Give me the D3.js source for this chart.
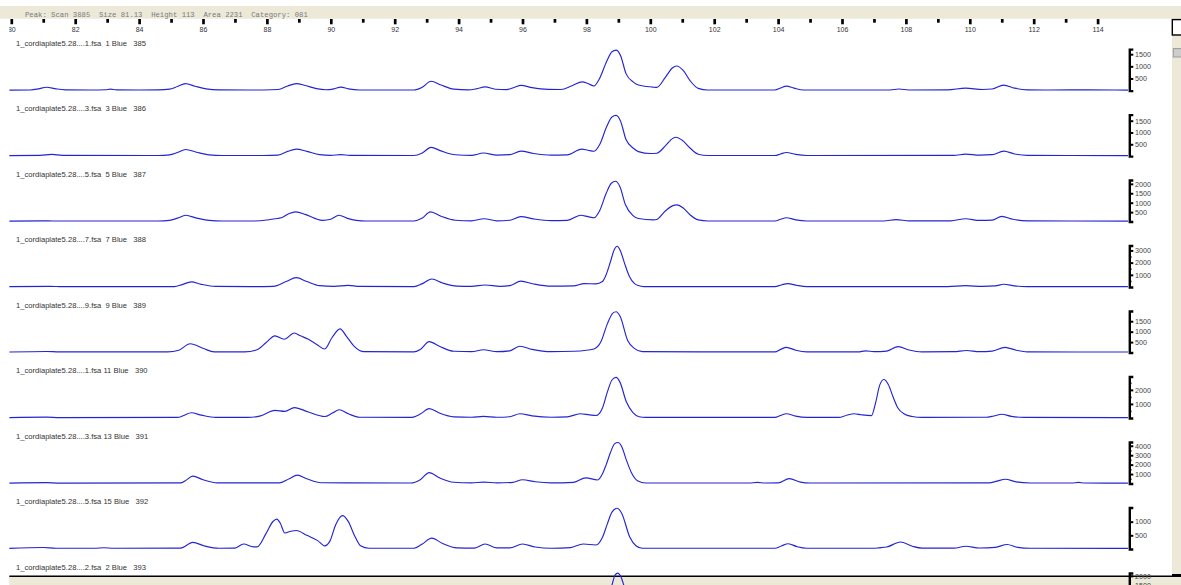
<!DOCTYPE html>
<html><head><meta charset="utf-8">
<script src="https://cdn.jsdelivr.net/npm/d3@7/dist/d3.min.js"></script>
<style>
html,body{margin:0;padding:0;background:#fff;overflow:hidden}
svg{display:block}
</style></head><body>
<svg id="c" width="1181" height="585"></svg>
<script>
// ---------- DATA ----------
const headerText = "Peak: Scan 3885  Size 81.13  Height 113  Area 2231  Category: 081";
const sizeTickLabels = [80,82,84,86,88,90,92,94,96,98,100,102,104,106,108,110,112,114];
const sizeMinorTicks = [81,83,85,87,89,91,93,95,97,99,101,103,105,107,109,111,113];
const sampleLabels = [
  "1_cordiaplate5.28....1.fsa  1 Blue   385",
  "1_cordiaplate5.28....3.fsa  3 Blue   386",
  "1_cordiaplate5.28....5.fsa  5 Blue   387",
  "1_cordiaplate5.28....7.fsa  7 Blue   388",
  "1_cordiaplate5.28....9.fsa  9 Blue   389",
  "1_cordiaplate5.28....1.fsa 11 Blue   390",
  "1_cordiaplate5.28....3.fsa 13 Blue   391",
  "1_cordiaplate5.28....5.fsa 15 Blue   392",
  "1_cordiaplate5.28....2.fsa  2 Blue   393"
];
const rfuMax = [1710, 1760, 2200, 3400, 1990, 2950, 4400, 1520, 2150];
const rfuTickLabels = [
  [500,1000,1500],[500,1000,1500],[500,1000,1500,2000],[1000,2000,3000],
  [500,1000,1500],[1000,2000],[1000,2000,3000,4000],[500,1000],[500,1000,1500,2000]
];
const rfuMinorTicks = [[],[],[],[500,1500,2500],[],[500,1500,2500],[500,1500,2500,3500],[],[]];

// traces: [size (bp), RFU]
const trace385 = [[79.94,20],[80.6,25],[80.85,70],[81.1,140],[81.4,70],[81.7,30],[82.5,25],[82.95,35],[83.1,60],[83.3,30],[84.0,25],[84.6,30],[84.95,60],[85.2,170],[85.45,290],[85.75,180],[86.1,70],[86.5,30],[87.4,25],[87.9,25],[88.35,45],[88.65,190],[88.92,290],[89.2,210],[89.55,80],[89.85,35],[90.1,70],[90.31,145],[90.55,70],[90.9,25],[92.6,25],[92.85,130],[93.14,385],[93.45,230],[93.85,60],[94.3,30],[94.55,70],[94.83,155],[95.15,55],[95.5,40],[95.75,140],[95.95,215],[96.3,120],[96.8,50],[97.2,45],[97.55,200],[97.87,360],[98.05,290],[98.24,190],[98.4,470],[98.63,1190],[98.8,1600],[98.93,1670],[99.07,1440],[99.24,700],[99.47,350],[99.63,230],[100.08,145],[100.2,130],[100.47,545],[100.69,930],[100.83,1015],[101.03,830],[101.25,400],[101.5,90],[101.8,25],[103.9,25],[104.08,110],[104.26,185],[104.5,100],[104.8,25],[107.5,25],[107.78,65],[108.1,25],[109.3,30],[109.87,100],[110.4,45],[110.7,65],[111.06,225],[111.4,100],[111.8,30],[112.5,25],[113.7,30],[114.95,20]];
const trace386 = [[79.94,20],[80.9,30],[81.27,70],[81.6,30],[84.6,25],[84.95,50],[85.2,150],[85.46,280],[85.8,160],[86.2,50],[86.6,25],[87.9,25],[88.35,40],[88.65,200],[88.92,295],[89.25,200],[89.65,60],[90.0,30],[90.31,60],[90.6,30],[92.6,25],[92.85,120],[93.14,370],[93.45,220],[93.9,55],[94.4,30],[94.78,130],[95.2,40],[95.6,60],[95.95,210],[96.35,110],[96.9,40],[97.4,50],[97.85,295],[98.05,245],[98.24,205],[98.42,500],[98.63,1230],[98.8,1660],[98.93,1725],[99.07,1480],[99.24,700],[99.47,330],[99.63,190],[100.0,110],[100.2,120],[100.47,430],[100.69,740],[100.81,800],[101.0,670],[101.25,330],[101.5,80],[101.8,25],[103.9,25],[104.08,90],[104.26,150],[104.55,70],[104.9,25],[109.5,30],[109.87,85],[110.3,40],[110.7,60],[111.06,210],[111.4,90],[111.8,30],[114.95,20]];
const trace387 = [[79.94,25],[81.0,40],[81.3,30],[84.6,30],[84.95,60],[85.2,180],[85.46,335],[85.8,180],[86.2,60],[86.6,30],[87.6,30],[88.0,80],[88.25,150],[88.45,200],[88.7,430],[88.9,515],[89.2,380],[89.5,170],[89.75,60],[90.0,120],[90.26,335],[90.5,180],[90.8,60],[91.1,30],[92.6,30],[92.85,170],[93.12,515],[93.45,280],[93.9,70],[94.4,40],[94.8,150],[95.2,40],[95.6,70],[95.95,260],[96.35,140],[96.9,50],[97.4,60],[97.82,335],[98.05,260],[98.24,200],[98.42,600],[98.62,1500],[98.78,2030],[98.91,2135],[99.05,1850],[99.22,900],[99.45,330],[99.63,160],[100.1,90],[100.2,110],[100.47,560],[100.69,830],[100.83,885],[101.03,720],[101.25,350],[101.5,90],[101.8,30],[103.9,30],[104.08,120],[104.26,200],[104.55,90],[104.9,30],[107.3,30],[107.7,105],[108.1,35],[109.4,40],[109.87,150],[110.3,60],[110.7,80],[111.0,275],[111.35,120],[111.8,35],[114.95,25]];
const trace388 = [[79.94,30],[81.2,60],[81.6,30],[85.1,40],[85.35,200],[85.63,425],[85.95,220],[86.4,50],[87.5,30],[88.2,60],[88.6,450],[88.92,770],[89.25,450],[89.65,110],[90.1,60],[90.55,140],[90.9,50],[92.6,40],[92.85,260],[93.16,655],[93.5,330],[93.95,80],[94.4,60],[94.83,165],[95.3,60],[95.6,120],[95.95,485],[96.35,250],[96.9,70],[97.6,90],[97.93,285],[98.3,260],[98.5,450],[98.6,900],[98.75,2050],[98.87,3050],[98.96,3340],[99.06,3000],[99.19,1980],[99.35,850],[99.5,300],[99.62,120],[99.8,40],[103.9,40],[104.1,170],[104.3,285],[104.6,130],[104.9,40],[109.3,40],[109.87,110],[110.4,50],[110.8,90],[111.06,230],[111.4,100],[111.8,40],[114.95,30]];
const trace389 = [[79.94,25],[81.1,50],[81.5,30],[84.9,30],[85.24,110],[85.6,420],[86.02,190],[86.35,30],[87.3,30],[87.69,135],[87.97,465],[88.25,800],[88.54,635],[88.86,935],[89.05,800],[89.3,635],[89.55,400],[89.81,170],[90.04,720],[90.29,1135],[90.48,800],[90.71,335],[91.04,40],[92.6,30],[92.8,150],[93.08,520],[93.4,300],[93.85,60],[94.4,40],[94.78,135],[95.2,40],[95.6,80],[95.92,300],[96.3,150],[96.9,40],[97.6,60],[98.0,110],[98.24,170],[98.45,500],[98.65,1350],[98.82,1880],[98.93,1955],[99.05,1750],[99.3,550],[99.5,200],[99.75,40],[103.9,30],[104.08,150],[104.26,250],[104.55,110],[104.9,30],[106.5,30],[106.74,80],[107.0,40],[107.4,70],[107.76,285],[108.1,120],[108.5,30],[109.5,40],[109.9,95],[110.3,40],[110.7,70],[111.1,250],[111.45,110],[111.8,30],[114.95,25]];
const trace390 = [[79.94,30],[81.1,60],[81.5,30],[85.2,40],[85.4,180],[85.63,370],[85.95,200],[86.4,40],[87.4,40],[87.8,150],[88.25,540],[88.56,470],[88.86,740],[89.3,425],[89.81,105],[90.05,350],[90.26,590],[90.55,300],[90.9,50],[92.5,40],[92.8,280],[93.08,670],[93.4,350],[93.85,80],[94.4,50],[94.78,120],[95.2,50],[95.6,90],[95.92,300],[96.3,150],[96.9,50],[97.4,80],[97.8,300],[98.1,220],[98.3,180],[98.5,700],[98.65,1800],[98.8,2700],[98.93,2890],[99.05,2550],[99.25,1150],[99.45,400],[99.65,90],[99.85,40],[103.9,40],[104.08,180],[104.26,300],[104.55,130],[104.9,40],[105.9,40],[106.15,200],[106.38,300],[106.6,230],[106.92,170],[107.05,1065],[107.18,2340],[107.31,2740],[107.45,2380],[107.6,1490],[107.75,710],[107.95,285],[108.2,105],[108.5,40],[110.5,50],[110.75,140],[111.0,270],[111.3,120],[111.7,40],[114.95,30]];
const trace391 = [[79.94,40],[81.1,90],[81.5,40],[85.3,60],[85.45,300],[85.68,775],[86.0,400],[86.45,60],[88.4,70],[88.7,500],[88.95,880],[89.25,500],[89.7,80],[90.5,60],[92.5,50],[92.8,400],[93.08,1145],[93.4,600],[93.85,130],[94.4,60],[94.78,150],[95.2,60],[95.7,120],[96.0,400],[96.4,180],[96.9,60],[97.6,120],[97.98,595],[98.35,370],[98.5,1000],[98.62,2000],[98.75,3250],[98.88,4200],[98.99,4345],[99.1,3950],[99.25,2500],[99.41,1145],[99.6,300],[99.86,50],[103.1,50],[103.35,110],[103.6,50],[104.0,60],[104.35,520],[104.7,150],[105.0,50],[110.6,60],[110.85,250],[111.11,445],[111.45,170],[111.9,50],[113.2,50],[113.4,110],[113.6,50],[114.95,40]];
const trace392 = [[79.94,20],[81.0,55],[81.4,25],[82.6,25],[82.9,45],[83.2,25],[85.3,30],[85.68,240],[86.05,110],[86.5,25],[87.0,30],[87.27,180],[87.58,75],[87.69,75],[87.97,560],[88.19,1005],[88.31,1095],[88.42,940],[88.56,585],[88.75,650],[88.92,675],[89.25,500],[89.59,305],[89.81,115],[89.98,305],[90.15,880],[90.37,1220],[90.54,1020],[90.76,445],[90.93,115],[91.2,25],[92.6,25],[92.85,170],[93.16,395],[93.5,200],[93.95,40],[94.5,30],[94.83,180],[95.2,40],[95.6,40],[96.0,180],[96.4,70],[96.9,25],[97.5,50],[97.9,180],[98.3,145],[98.5,420],[98.65,900],[98.8,1350],[98.96,1490],[99.1,1320],[99.36,430],[99.55,120],[99.75,25],[103.9,25],[104.1,110],[104.32,190],[104.6,80],[104.9,25],[107.0,25],[107.15,40],[107.4,70],[107.83,255],[108.2,100],[108.5,30],[109.5,30],[109.87,100],[110.3,35],[110.8,60],[111.17,165],[111.5,60],[111.9,25],[114.95,20]];
const trace393 = [[79.94,25],[85.6,250],[86.2,30],[93.1,450],[93.6,30],[97.9,300],[98.3,250],[98.5,500],[98.65,900],[98.79,1475],[98.9,2050],[98.98,2140],[99.08,1950],[99.18,1475],[99.35,600],[99.6,100],[99.9,30],[114.95,25]];
const traces = [trace385, trace386, trace387, trace388, trace389, trace390, trace391, trace392, trace393];

// ---------- DRAW ----------
const W = 1181, H = 585;
const BEIGE = "#ECE9D8";
const SANS = "'Liberation Sans', Arial, sans-serif";
const MONO = "'Liberation Mono', 'Courier New', monospace";
const svg = d3.select("#c");
const x = d3.scaleLinear().domain([80, 114]).range([11.3, 1097.6]);

const defs = svg.append("defs");
defs.append("clipPath").attr("id", "leftclip")
  .append("rect").attr("x", 9.3).attr("y", 0).attr("width", W).attr("height", H);

// header band and right strip
svg.append("rect").attr("x", 0).attr("y", 6).attr("width", W).attr("height", 12.7).attr("fill", BEIGE);
svg.append("rect").attr("x", 1172).attr("y", 6).attr("width", 9).attr("height", H - 6).attr("fill", BEIGE);
svg.append("text").attr("x", 25).attr("y", 17.2)
  .attr("xml:space", "preserve")
  .style("font-family", MONO).style("font-size", "7.25px").style("fill", "#7a7a7a")
  .style("white-space", "pre").text(headerText);

// top size axis
const topG = svg.append("g").attr("clip-path", "url(#leftclip)");
const gMaj = topG.append("g").attr("transform", "translate(0,19)")
  .call(d3.axisBottom(x).tickValues(sizeTickLabels).tickSize(5.3).tickPadding(2.3).tickFormat(d3.format("d")));
const gMin = topG.append("g").attr("transform", "translate(0,19)")
  .call(d3.axisBottom(x).tickValues(sizeMinorTicks).tickSize(3.7).tickFormat(""));
[gMaj, gMin].forEach(g => {
  g.select(".domain").remove();
  g.selectAll(".tick line").attr("stroke", "#000").attr("stroke-width", 2.7);
});
gMaj.selectAll(".tick text").style("fill", "#333").style("font-size", "7px").style("font-family", SANS);

function drawPanel(i) {
  const base = 90.6 + 65.48 * i;
  const top = base - 41.5;
  const y = d3.scaleLinear().domain([0, rfuMax[i]]).range([base, top]);
  const g = svg.append("g");
  g.append("text").attr("x", 16).attr("y", 45.7 + 65.48 * i)
    .attr("xml:space", "preserve")
    .style("font-family", SANS).style("font-size", "7.6px").style("fill", "#333")
    .style("white-space", "pre").text(sampleLabels[i]);
  const line = d3.line().x(d => x(d[0])).y(d => y(d[1])).curve(d3.curveMonotoneX);
  g.append("path").datum(traces[i]).attr("d", line)
    .attr("fill", "none").attr("stroke", "#2424d4").attr("stroke-width", 1.15)
    .attr("stroke-linejoin", "round");
  const ax = g.append("g").attr("transform", "translate(1129.3,0)")
    .call(d3.axisRight(y).tickValues(rfuTickLabels[i]).tickSize(4).tickSizeOuter(4)
      .tickPadding(1.8).tickFormat(d3.format("d")));
  ax.select(".domain").attr("stroke", "#000").attr("stroke-width", 2.4).attr("fill", "none");
  ax.selectAll(".tick line").attr("stroke", "#000").attr("stroke-width", 2);
  ax.selectAll(".tick text").style("fill", "#444").style("font-size", "7.2px").style("font-family", SANS);
  if (rfuMinorTicks[i].length) {
    const mx = g.append("g").attr("transform", "translate(1129.3,0)")
      .call(d3.axisRight(y).tickValues(rfuMinorTicks[i]).tickSize(2.2).tickSizeOuter(0).tickFormat(""));
    mx.select(".domain").remove();
    mx.selectAll(".tick line").attr("stroke", "#000").attr("stroke-width", 1.6);
  }
}
for (let i = 0; i < 8; i++) drawPanel(i);

// bottom band
svg.append("rect").attr("x", 9.3).attr("y", 576).attr("width", W - 9.3).attr("height", 9).attr("fill", BEIGE);
svg.append("line").attr("x1", 9.3).attr("x2", W).attr("y1", 576.2).attr("y2", 576.2)
  .attr("stroke", "#000").attr("stroke-width", 1.4);
svg.append("rect").attr("x", 1172).attr("y", 574).attr("width", 9).attr("height", 3).attr("fill", "#000");
drawPanel(8);

// scroll widgets on the right
svg.append("rect").attr("x", 1172.3).attr("y", 19.6).attr("width", 10).attr("height", 15.4)
  .attr("fill", "#fff").attr("stroke", "#000").attr("stroke-width", 1.4);
svg.append("rect").attr("x", 1173.3).attr("y", 48.6).attr("width", 9).attr("height", 8.4)
  .attr("fill", "#cdcdcd").attr("stroke", "#9a9a9a").attr("stroke-width", 1);
</script>
</body></html>
